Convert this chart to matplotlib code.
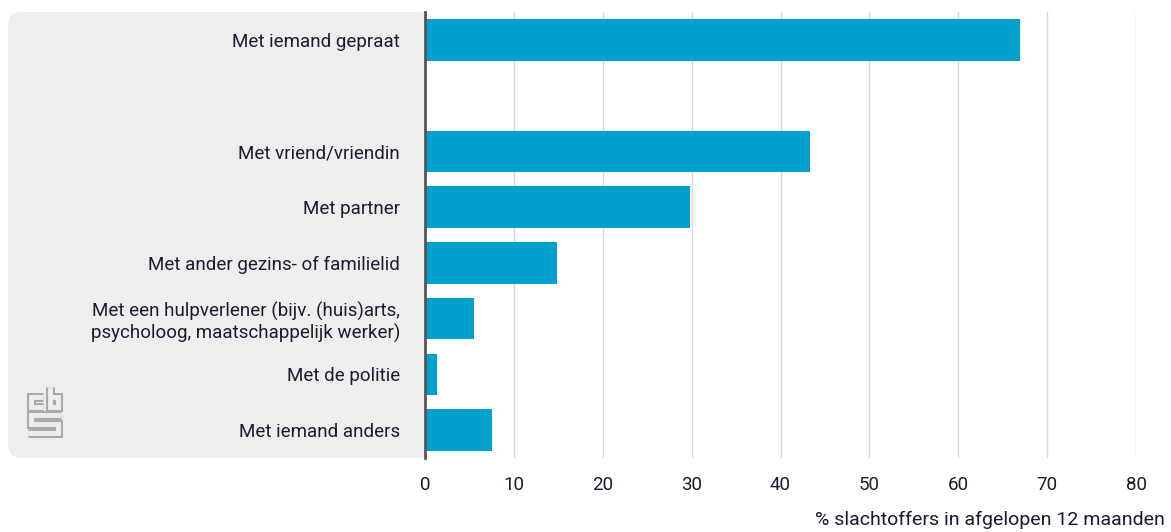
import matplotlib.pyplot as plt
from matplotlib.patches import FancyBboxPatch
from matplotlib.lines import Line2D

categories = [
    "Met iemand gepraat",
    "Met vriend/vriendin",
    "Met partner",
    "Met ander gezins- of familielid",
    "Met een hulpverlener (bijv. (huis)arts,\npsycholoog, maatschappelijk werker)",
    "Met de politie",
    "Met iemand anders",
]
values = [67.0, 43.3, 29.8, 14.8, 5.5, 1.3, 7.5]
xticks = [0, 10, 20, 30, 40, 50, 60, 70, 80]
xlabel = "% slachtoffers in afgelopen 12 maanden"

W, H = 1171, 532
plt.rcParams['font.family'] = ['Roboto', 'DejaVu Sans']
txt_col = "#1b1b2f"
fs = 13.5

fig = plt.figure(figsize=(W / 100, H / 100), dpi=100)


def px(x, y):
    return x / W, 1 - y / H


# grey label panel
x0, y0 = px(8, 458)
x1, y1 = px(432, 12)
panel = FancyBboxPatch((x0, y0), x1 - x0, y1 - y0, boxstyle="round,pad=0,rounding_size=0.012",
                       transform=fig.transFigure, facecolor="#eeeeee", edgecolor="none", zorder=-2,
                       mutation_aspect=W / H)
fig.patches.append(panel)

ax_l, ax_b = px(425, 458)
ax_r, ax_t = px(1136, 12)
ax = fig.add_axes([ax_l, ax_b, ax_r - ax_l, ax_t - ax_b])

# first bar, then one empty slot, then the rest
pos = [0] + [i + 1 for i in range(1, len(values))]
ax.barh(pos, values, height=0.74, color="#00a1cd", zorder=3)
ax.set_ylim(7.5, -0.5)
ax.set_xlim(0, 80)
ax.set_yticks(pos)
ax.set_yticklabels(categories, fontsize=fs, color=txt_col, ha="right", multialignment="right")
ax.set_xticks(xticks)
ax.set_xticklabels([str(t) for t in xticks], fontsize=fs, color=txt_col)
ax.tick_params(axis="y", length=0, pad=18)
ax.tick_params(axis="x", length=0, pad=13)
ax.grid(axis="x", color="#d9d9d9", lw=1, zorder=0)
for s in ["top", "right", "bottom"]:
    ax.spines[s].set_visible(False)
ax.spines["left"].set_color("#555555")
ax.spines["left"].set_linewidth(2)
ax.spines["left"].set_zorder(4)

lx, ly = px(1165, 520)
fig.text(lx, ly, xlabel, ha="right", va="center", fontsize=14, color=txt_col)

# cbs logo
def logo_path(pts):
    xs = [px(p[0] / 3, 280 + p[1] / 3)[0] for p in pts]
    ys = [px(p[0] / 3, 280 + p[1] / 3)[1] for p in pts]
    fig.add_artist(Line2D(xs, ys, transform=fig.transFigure, color="#aaaaaa", lw=6.5,
                          solid_joinstyle="miter", solid_capstyle="butt"))
    fig.add_artist(Line2D(xs, ys, transform=fig.transFigure, color="#eeeeee", lw=3.5,
                          solid_joinstyle="miter", solid_capstyle="butt"))


logo_path([(128, 352), (92, 352), (92, 381), (128, 381)])
logo_path([(150, 322), (150, 381), (175, 381), (175, 352), (150, 352)])
logo_path([(182, 406), (92, 406), (92, 433), (175, 433), (175, 460), (85, 460)])

fig.savefig("out.png", dpi=100)
